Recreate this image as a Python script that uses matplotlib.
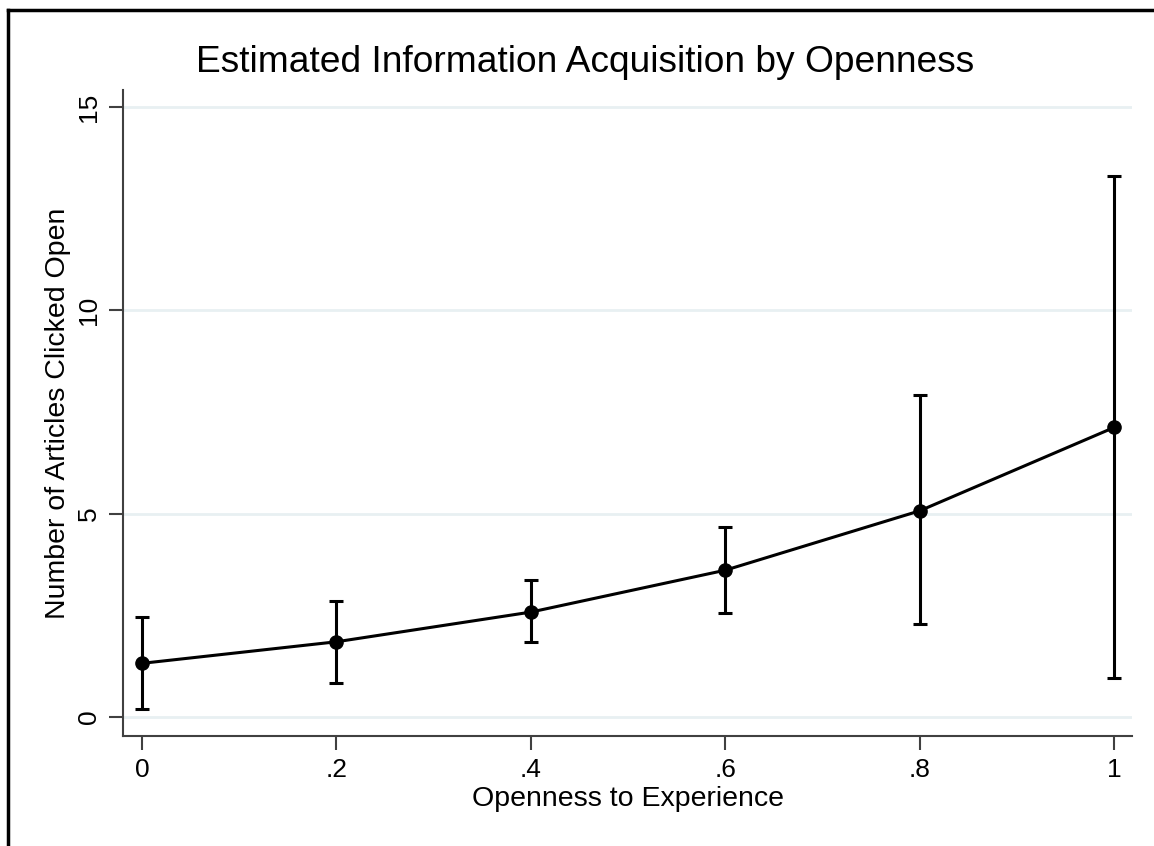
import matplotlib.pyplot as plt
from matplotlib.lines import Line2D
import numpy as np

openness = [0, 0.2, 0.4, 0.6, 0.8, 1.0]
clicks = [1.32, 1.85, 2.58, 3.61, 5.07, 7.12]
ci_low = [0.19, 0.83, 1.85, 2.57, 2.29, 0.95]
ci_high = [2.47, 2.85, 3.37, 4.68, 7.92, 13.3]
xtick_vals = [0, 0.2, 0.4, 0.6, 0.8, 1.0]
xtick_labels = ["0", ".2", ".4", ".6", ".8", "1"]
ytick_vals = [0, 5, 10, 15]

plt.rcParams['font.family'] = ['Liberation Sans', 'DejaVu Sans']

fig = plt.figure(figsize=(11.54, 8.46), dpi=100)
ax = fig.add_axes([123/1154, 1 - 736/846, (1132 - 123)/1154, (736 - 90)/846])

clicks = np.array(clicks)
yerr = [clicks - np.array(ci_low), np.array(ci_high) - clicks]
ax.errorbar(openness, clicks, yerr=yerr, color="black", lw=2.2, marker="o",
            markersize=9.5, capsize=5, capthick=2.2, elinewidth=2.2, zorder=3)

ax.set_xlim(-0.0195, 1.0185)
ax.set_ylim(-0.467, 15.42)
ax.set_xticks(xtick_vals)
ax.set_xticklabels(xtick_labels)
ax.set_yticks(ytick_vals)
ax.set_yticklabels([str(v) for v in ytick_vals], rotation=90, va="center")

for s in ["top", "right"]:
    ax.spines[s].set_visible(False)
for s in ["left", "bottom"]:
    ax.spines[s].set_color("#404040")
    ax.spines[s].set_linewidth(1.5)

ax.yaxis.grid(True, color="#e8f0f2", lw=2)
ax.set_axisbelow(True)
ax.tick_params(axis="both", length=10, width=1.5, color="#404040",
               labelsize=19, pad=6)

ax.set_xlabel("Openness to Experience", fontsize=20.5, labelpad=3)
ax.set_ylabel("Number of Articles Clicked Open", fontsize=20.5, labelpad=4)
fig.text(585/1154, 1 - 62/846, "Estimated Information Acquisition by Openness",
         fontsize=26.7, ha="center", va="center")

# outer frame (only top and left visible in the crop)
fig.add_artist(Line2D([8/1154, 1], [1 - 10/846, 1 - 10/846], color="black",
                      lw=2.5, transform=fig.transFigure))
fig.add_artist(Line2D([8/1154, 8/1154], [0, 1 - 10/846], color="black",
                      lw=2.5, transform=fig.transFigure))

fig.savefig("out.png", dpi=100)
